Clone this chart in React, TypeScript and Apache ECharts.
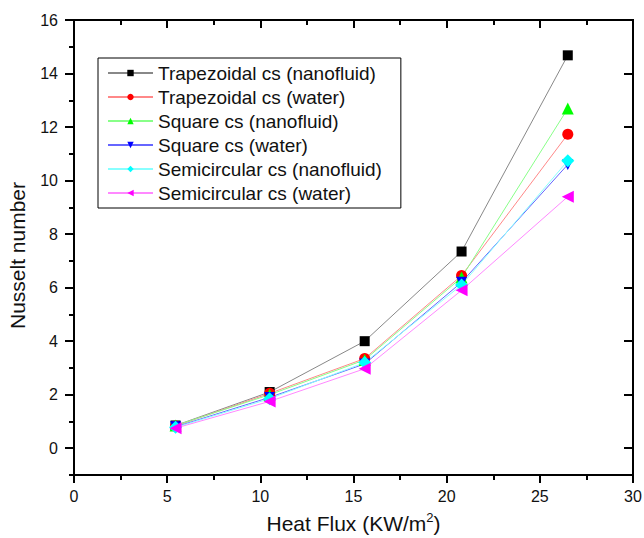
import React, { useEffect, useRef } from "react";
import * as echarts from "echarts";

const heatFlux = [5.45, 10.5, 15.6, 20.8, 26.5];
const trapNano = [0.85, 2.1, 4.0, 7.35, 14.68];
const trapWater = [0.83, 2.05, 3.35, 6.45, 11.73];
const squareNano = [0.85, 2.0, 3.3, 6.38, 12.69];
const squareWater = [0.8, 1.9, 3.15, 6.2, 10.6];
const semiNano = [0.78, 1.85, 3.2, 6.1, 10.74];
const semiWater = [0.75, 1.75, 2.97, 5.9, 9.4];
const yMajor = [0, 2, 4, 6, 8, 10, 12, 14, 16];
const yMinor = [-1, 1, 3, 5, 7, 9, 11, 13, 15];

const FONT = "Arial, 'Liberation Sans', sans-serif";

export default function App() {
  const ref = useRef<HTMLDivElement>(null);
  useEffect(() => {
    const chart = echarts.init(ref.current!, undefined, { renderer: "svg" });
    const axisColor = "#000";
    const mk = (
      name: string,
      data: number[],
      marker: string,
      line: string,
      symbol: string,
      size: number
    ) => ({
      name,
      type: "line",
      xAxisIndex: 0,
      yAxisIndex: 0,
      data: heatFlux.map((x, i) => [x, data[i]]),
      symbol,
      symbolSize: size,
      showSymbol: true,
      itemStyle: { color: marker },
      lineStyle: { color: line, width: 1 },
      emphasis: { disabled: true },
    });
    const series = [
      mk("Trapezoidal cs (nanofluid)", trapNano, "#000000", "#888888", "rect", 10),
      mk("Trapezoidal cs (water)", trapWater, "#ff0000", "#ff8888", "circle", 11),
      mk("Square cs (nanofluid)", squareNano, "#00ff00", "#88ff88", "triangle", 12),
      mk("Square cs (water)", squareWater, "#0000ff", "#6666ff", "path://M0,0 L10,0 L5,10 Z", 11),
      mk("Semicircular cs (nanofluid)", semiNano, "#00ffff", "#88ffff", "diamond", 13),
      mk("Semicircular cs (water)", semiWater, "#ff00ff", "#ff88ff", "path://M10,0 L10,10 L0,5 Z", 12),
    ];
    const baseY = {
      type: "value",
      min: -1,
      max: 16,
      interval: 1,
      splitLine: { show: false },
    };
    const tickStyle = { color: axisColor, width: 2 };
    const lineStyle = { color: axisColor, width: 2 };
    chart.setOption({
      animation: false,
      textStyle: { fontFamily: FONT },
      grid: {
        left: 74,
        top: 20,
        right: 11,
        bottom: 63,
        outerBoundsMode: "none",
        containLabel: false,
        show: true,
        borderColor: "#111",
        borderWidth: 2,
        backgroundColor: "transparent",
      },
      legend: {
        orient: "vertical",
        left: 98,
        top: 58,
        padding: [3, 19, 3, 9],
        borderColor: "#000",
        borderWidth: 1,
        itemWidth: 45,
        itemHeight: 8,
        itemGap: 0,
        textStyle: { fontSize: 19, color: "#111", fontFamily: FONT, lineHeight: 24 },
        data: series.map((s) => s.name),
      },
      xAxis: [
        {
          type: "value",
          position: "bottom",
          min: 0,
          max: 30,
          interval: 5,
          axisLine: { show: true, onZero: false, lineStyle },
          axisTick: { show: true, inside: false, length: 8, lineStyle: tickStyle },
          minorTick: { show: true, splitNumber: 2, length: 5, lineStyle: tickStyle },
          axisLabel: { fontSize: 16, color: "#111", margin: 13, fontFamily: FONT },
          splitLine: { show: false },
          name: "Heat Flux (KW/m{sup|2})",
          nameLocation: "middle",
          nameGap: 36,
          nameTextStyle: {
            fontSize: 21,
            color: "#111",
            fontFamily: FONT,
            rich: { sup: { fontSize: 13, verticalAlign: "top", padding: [0, 0, 12, 0], fontFamily: FONT, color: "#111" } },
          },
        },
        {
          type: "value",
          position: "top",
          min: 0,
          max: 30,
          interval: 5,
          axisLine: { show: true, onZero: false, lineStyle },
          axisTick: { show: true, inside: true, length: 8, lineStyle: tickStyle },
          minorTick: { show: true, splitNumber: 2, length: 5, lineStyle: tickStyle },
          axisLabel: { show: false },
          splitLine: { show: false },
        },
      ],
      yAxis: [
        {
          ...baseY,
          position: "left",
          axisLine: { show: true, onZero: false, lineStyle },
          axisTick: { show: true, inside: false, length: 9, customValues: yMajor, lineStyle: tickStyle },
          axisLabel: { fontSize: 16, color: "#111", margin: 16, customValues: yMajor, fontFamily: FONT },
          name: "Nusselt number",
          nameLocation: "middle",
          nameGap: 46,
          nameRotate: 90,
          nameTextStyle: { fontSize: 21, color: "#111", fontFamily: FONT, padding: [0, 16, 0, 0] },
        },
        {
          ...baseY,
          position: "left",
          axisLine: { show: false },
          axisTick: { show: true, inside: false, length: 5, customValues: yMinor, lineStyle: tickStyle },
          axisLabel: { show: false },
        },
        {
          ...baseY,
          position: "right",
          axisLine: { show: true, onZero: false, lineStyle },
          axisTick: { show: true, inside: true, length: 9, customValues: yMajor, lineStyle: tickStyle },
          axisLabel: { show: false },
        },
        {
          ...baseY,
          position: "right",
          axisLine: { show: false },
          axisTick: { show: true, inside: true, length: 5, customValues: yMinor, lineStyle: tickStyle },
          axisLabel: { show: false },
        },
      ],
      series,
    });
    return () => chart.dispose();
  }, []);
  return <div ref={ref} style={{ width: 644, height: 538, position: "absolute", left: 0, top: 0, background: "#fff" }} />;
}
